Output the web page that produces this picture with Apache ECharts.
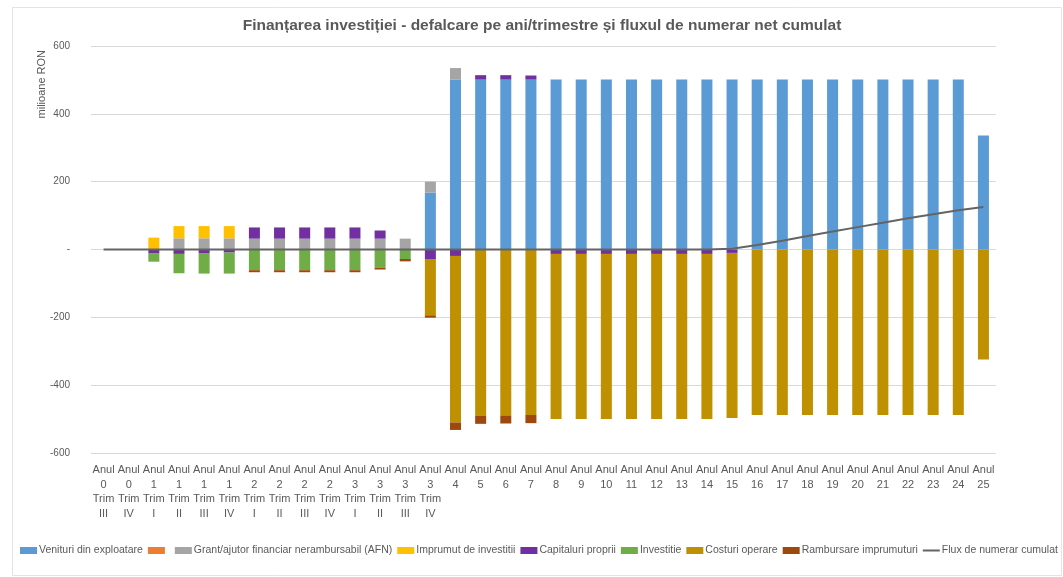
<!DOCTYPE html>
<html>
<head>
<meta charset="utf-8">
<title>Finanțarea investiției</title>
<script src="https://cdn.jsdelivr.net/npm/echarts@6/dist/echarts.min.js"></script>
<style>
  html, body { margin: 0; padding: 0; background: #ffffff; }
  #chart { width: 1063px; height: 577px; }
</style>
</head>
<body>
<div id="chart"></div>
<script>
// categories: quarters for years 0-3, then whole years 4-25
var categories = [
  'Anul\n0\nTrim\nIII', 'Anul\n0\nTrim\nIV',
  'Anul\n1\nTrim\nI', 'Anul\n1\nTrim\nII', 'Anul\n1\nTrim\nIII', 'Anul\n1\nTrim\nIV',
  'Anul\n2\nTrim\nI', 'Anul\n2\nTrim\nII', 'Anul\n2\nTrim\nIII', 'Anul\n2\nTrim\nIV',
  'Anul\n3\nTrim\nI', 'Anul\n3\nTrim\nII', 'Anul\n3\nTrim\nIII', 'Anul\n3\nTrim\nIV',
  'Anul\n4', 'Anul\n5', 'Anul\n6', 'Anul\n7', 'Anul\n8', 'Anul\n9', 'Anul\n10',
  'Anul\n11', 'Anul\n12', 'Anul\n13', 'Anul\n14', 'Anul\n15', 'Anul\n16', 'Anul\n17',
  'Anul\n18', 'Anul\n19', 'Anul\n20', 'Anul\n21', 'Anul\n22', 'Anul\n23', 'Anul\n24', 'Anul\n25'
];

var yTicks = [-600, -400, -200, 0, 200, 400, 600];

var venituri = [0, 0, 0, 0, 0, 0, 0, 0, 0, 0, 0, 0, 0, 168,
  501, 501, 501, 501, 501, 501, 501, 501, 501, 501, 501, 501, 501, 501,
  501, 501, 501, 501, 501, 501, 501, 336];
var altele = [0, 0, 0, 0, 0, 0, 0, 0, 0, 0, 0, 0, 0, 0,
  0, 0, 0, 0, 0, 0, 0, 0, 0, 0, 0, 0, 0, 0, 0, 0, 0, 0, 0, 0, 0, 0];
var grant = [0, 0, 0, 33, 33, 33, 32, 32, 32, 32, 32, 32, 32, 32,
  34, 0, 0, 0, 0, 0, 0, 0, 0, 0, 0, 0, 0, 0, 0, 0, 0, 0, 0, 0, 0, 0];
var imprumut = [0, 0, 35, 36, 36, 36, 0, 0, 0, 0, 0, 0, 0, 0,
  0, 0, 0, 0, 0, 0, 0, 0, 0, 0, 0, 0, 0, 0, 0, 0, 0, 0, 0, 0, 0, 0];
var capitaluri = [0, 0, -12, -13, -12, -9, 33, 33, 33, 33, 33, 24, 0, -28,
  -19, 13, 13, 12, -13, -13, -13, -13, -13, -13, -13, -10, 0, 0,
  0, 0, 0, 0, 0, 0, 0, 0];
var investitie = [0, 0, -24, -57, -59, -62, -61, -61, -61, -61, -61, -54, -28, 0,
  0, 0, 0, 0, 0, 0, 0, 0, 0, 0, 0, 0, 0, 0, 0, 0, 0, 0, 0, 0, 0, 0];
var costuri = [0, 0, 0, 0, 0, 0, 0, 0, 0, 0, 0, 0, 0, -166,
  -491, -490, -489, -488, -487, -487, -487, -487, -487, -487, -487, -487, -488, -488,
  -488, -488, -488, -488, -488, -488, -488, -324];
var rambursare = [0, 0, 0, 0, 0, 0, -6, -6, -6, -6, -6, -5, -7, -7,
  -22, -24, -24, -24, 0, 0, 0, 0, 0, 0, 0, 0, 0, 0, 0, 0, 0, 0, 0, 0, 0, 0];
var fluxCumulat = [0, 0, 0, 0, 0, 0, 0, 0, 0, 0, 0, 0, 0, 0,
  0, 0, 0, 0, 0, 0, 0, 0, 0, 0, 0, 2, 13, 26,
  40, 53, 66, 79, 92, 104, 116, 125];

(function () {
  var text = '#595959';
  var rule = '#d9d9d9';
  var font = '"Liberation Sans", Arial, sans-serif';
  // thin horizontal stroke inside a 17x7 box, used as the legend icon of the line
  var lineIcon = 'path://M0,0L0,0.01M0,2.6L17,2.6L17,4.4L0,4.4ZM17,7L17,6.99';

  function barSeries(name, data, color) {
    return {
      name: name,
      type: 'bar',
      stack: 'total',
      barWidth: 11,
      data: data,
      itemStyle: { color: color },
      emphasis: { disabled: true }
    };
  }

  var chart = echarts.init(document.getElementById('chart'), null, { renderer: 'canvas' });
  chart.setOption({
    animation: false,
    backgroundColor: '#ffffff',
    textStyle: { fontFamily: font },
    title: {
      text: 'Finanțarea investiției - defalcare pe ani/trimestre și fluxul de numerar net cumulat',
      left: 537,
      textAlign: 'center',
      top: 13,
      textStyle: { color: text, fontSize: 15.5, fontWeight: 'bold', fontFamily: font }
    },
    graphic: [
      {
        type: 'rect',
        shape: { x: 12.5, y: 7.5, width: 1049, height: 568 },
        style: { fill: 'none', stroke: '#e3e3e3', lineWidth: 1 },
        silent: true
      },
      {
        type: 'text',
        left: 36,
        top: 50,
        rotation: Math.PI / 2,
        style: { text: 'milioane RON', fill: text, font: '11px ' + font }
      }
    ],
    legend: {
      bottom: 16,
      left: 15,
      right: 0,
      itemWidth: 17,
      itemHeight: 7,
      itemGap: 5,
      textStyle: { color: text, fontSize: 10.5, fontFamily: font, padding: [0, 0, 0, -3] },
      data: [
        { name: 'Venituri din exploatare', icon: 'rect' },
        { name: ' ', icon: 'rect' },
        { name: 'Grant/ajutor financiar nerambursabil (AFN)', icon: 'rect' },
        { name: 'Imprumut de investitii', icon: 'rect' },
        { name: 'Capitaluri proprii', icon: 'rect' },
        { name: 'Investitie', icon: 'rect' },
        { name: 'Costuri operare', icon: 'rect' },
        { name: 'Rambursare imprumuturi', icon: 'rect' },
        { name: 'Flux de numerar cumulat', icon: lineIcon }
      ]
    },
    grid: { left: 91, right: 67, top: 46, bottom: 124, containLabel: false },
    xAxis: {
      type: 'category',
      data: categories,
      position: 'bottom',
      axisLine: { show: false },
      axisTick: { show: false },
      axisLabel: {
        interval: 0,
        color: text,
        fontSize: 11,
        lineHeight: 14.5,
        margin: 10,
        fontFamily: font
      }
    },
    yAxis: {
      type: 'value',
      min: yTicks[0],
      max: yTicks[yTicks.length - 1],
      interval: 200,
      axisLine: { show: false },
      axisTick: { show: false },
      splitLine: { lineStyle: { color: rule, width: 1 } },
      axisLabel: {
        color: text,
        fontSize: 10,
        margin: 21,
        fontFamily: font,
        formatter: function (v) { return v === 0 ? '-' : String(v); }
      }
    },
    series: [
      barSeries('Venituri din exploatare', venituri, '#5b9bd5'),
      barSeries(' ', altele, '#ed7d31'),
      barSeries('Grant/ajutor financiar nerambursabil (AFN)', grant, '#a5a5a5'),
      barSeries('Imprumut de investitii', imprumut, '#ffc000'),
      barSeries('Capitaluri proprii', capitaluri, '#7030a0'),
      barSeries('Investitie', investitie, '#70ad47'),
      barSeries('Costuri operare', costuri, '#bf9000'),
      barSeries('Rambursare imprumuturi', rambursare, '#9e480e'),
      {
        name: 'Flux de numerar cumulat',
        type: 'line',
        data: fluxCumulat,
        symbol: 'none',
        z: 5,
        lineStyle: { color: '#646464', width: 2 },
        itemStyle: { color: '#646464' },
        emphasis: { disabled: true }
      }
    ]
  });
})();
</script>
</body>
</html>
